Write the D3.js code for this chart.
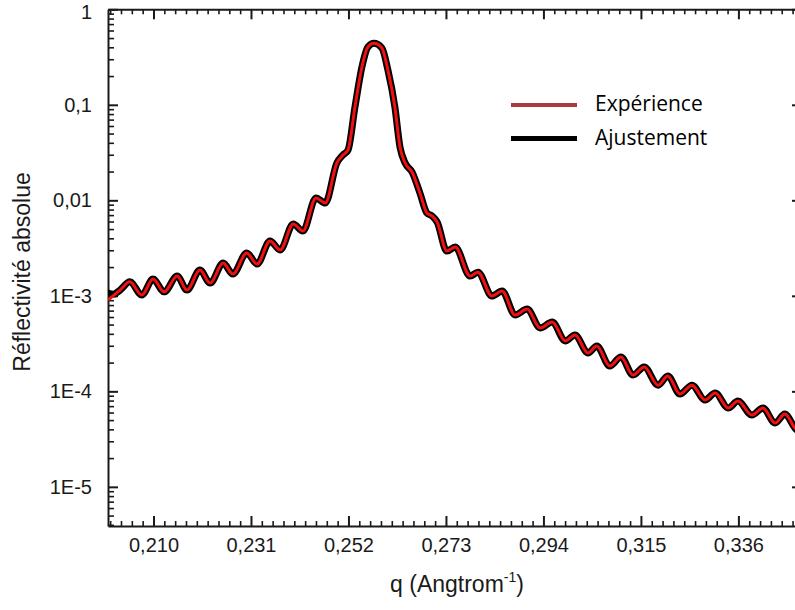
<!DOCTYPE html>
<html><head><meta charset="utf-8">
<script src="https://cdn.jsdelivr.net/npm/d3@7"></script>
<style>body{margin:0;background:#fff}svg{display:block}</style>
</head><body>
<svg id="c" width="795" height="610"></svg>
<script>
// ---- data ----
const qValues = [0.2002,0.2013,0.2028,0.2049,0.2075,0.2099,0.2123,0.2151,0.2172,0.2200,
  0.2222,0.2250,0.2271,0.2301,0.2323,0.2351,0.2373,0.2401,0.2422,0.2450,
  0.2470,0.2495,0.2508,0.2519,0.2534,0.2549,0.2562,0.2575,0.2592,0.2605,
  0.2620,0.2631,0.2642,0.2657,0.2674,0.2689,0.2700,0.2711,0.2732,0.2750,
  0.2782,0.2799,0.2829,0.2851,0.2879,0.2905,0.2933,0.2959,0.2987,0.3008,
  0.3036,0.3055,0.3083,0.3107,0.3133,0.3157,0.3187,0.3208,0.3234,0.3260,
  0.3288,0.3310,0.3338,0.3359,0.3389,0.3413,0.3439,0.3460,0.3482,0.3497];
const experience = [9.04e-4,1.00e-3,1.15e-3,1.40e-3,1.02e-3,1.50e-3,1.10e-3,1.61e-3,1.15e-3,1.86e-3,
  1.36e-3,2.20e-3,1.69e-3,2.81e-3,2.15e-3,3.75e-3,3.02e-3,5.65e-3,4.77e-3,1.06e-2,
  9.37e-3,2.46e-2,2.98e-2,3.36e-2,9.48e-2,0.249,0.403,0.440,0.394,0.231,
  9.48e-2,3.61e-2,2.46e-2,1.98e-2,1.19e-2,7.36e-3,6.85e-3,5.93e-3,2.94e-3,3.24e-3,
  1.61e-3,1.77e-3,9.95e-4,1.12e-3,6.30e-4,7.28e-4,4.60e-4,5.32e-4,3.37e-4,3.89e-4,
  2.52e-4,2.98e-4,1.84e-4,2.29e-4,1.48e-4,1.80e-4,1.16e-4,1.45e-4,9.37e-5,1.16e-4,
  8.11e-5,9.59e-5,6.68e-5,7.91e-5,5.65e-5,6.68e-5,4.66e-5,5.78e-5,4.12e-5,3.57e-5];
const ajustement = [1.07e-3,1.04e-3,1.15e-3,1.40e-3,1.02e-3,1.50e-3,1.10e-3,1.61e-3,1.15e-3,1.86e-3,
  1.36e-3,2.20e-3,1.69e-3,2.81e-3,2.15e-3,3.75e-3,3.02e-3,5.65e-3,4.77e-3,1.06e-2,
  9.37e-3,2.46e-2,2.98e-2,3.36e-2,9.48e-2,0.249,0.403,0.440,0.394,0.231,
  9.48e-2,3.61e-2,2.46e-2,1.98e-2,1.19e-2,7.36e-3,6.85e-3,5.93e-3,2.94e-3,3.24e-3,
  1.61e-3,1.77e-3,9.95e-4,1.12e-3,6.30e-4,7.28e-4,4.60e-4,5.32e-4,3.37e-4,3.89e-4,
  2.52e-4,2.98e-4,1.84e-4,2.29e-4,1.48e-4,1.80e-4,1.16e-4,1.45e-4,9.37e-5,1.16e-4,
  8.11e-5,9.59e-5,6.68e-5,7.91e-5,5.65e-5,6.68e-5,4.66e-5,5.78e-5,4.12e-5,3.57e-5];
const xTickValues = [0.210,0.231,0.252,0.273,0.294,0.315,0.336];
const yTickValues = [1,0.1,0.01,1e-3,1e-4,1e-5];
const yTickLabels = ["1","0,1","0,01","1E-3","1E-4","1E-5"];
const legendLabels = ["Expérience","Ajustement"];
const xTitle = "q (Angtrom";
const yTitle = "Réflectivité absolue";

// ---- layout ----
const L = 108, R = 802, T = 9.3, B = 526;
const svg = d3.select("#c");
const x = d3.scaleLinear().domain([0.2002, 0.3497]).range([L, R]);
const y = d3.scaleLog().domain([Math.pow(10, -5.41), 1]).range([B, T]);

const xMinor = d3.range(-4, 64).filter(k => k % 9 !== 0)
  .map(k => 0.210 + k * 0.021 / 9)
  .filter(v => v >= x.domain()[0] && v <= x.domain()[1]);
const yMinor = [];
for (let d = -6; d <= 0; d++) for (let m = 2; m <= 9; m++) {
  const v = m * Math.pow(10, d);
  if (v >= y.domain()[0] && v <= y.domain()[1]) yMinor.push(v);
}

const axisColor = "#1a1a1a";
function styleAxis(g, w) {
  g.selectAll("path.domain").attr("stroke", axisColor).attr("stroke-width", 2);
  g.selectAll(".tick line").attr("stroke", axisColor).attr("stroke-width", w);
  g.selectAll(".tick text").attr("fill", axisColor)
    .style("font-family", "'Liberation Sans', Arial, sans-serif").style("font-size", "20px");
}
const fmtX = d => d3.format(".3f")(d).replace(".", ",");

// minor ticks
svg.append("g").attr("transform", `translate(0,${B})`)
  .call(d3.axisBottom(x).tickValues(xMinor).tickSize(-5).tickSizeOuter(0).tickFormat(""))
  .call(g => { g.select(".domain").remove(); styleAxis(g, 1.6); });
svg.append("g").attr("transform", `translate(0,${T})`)
  .call(d3.axisTop(x).tickValues(xMinor).tickSize(-5).tickSizeOuter(0).tickFormat(""))
  .call(g => { g.select(".domain").remove(); styleAxis(g, 1.6); });
svg.append("g").attr("transform", `translate(${L},0)`)
  .call(d3.axisLeft(y).tickValues(yMinor).tickSize(-6).tickSizeOuter(0).tickFormat(""))
  .call(g => { g.select(".domain").remove(); styleAxis(g, 1.6); });
svg.append("g").attr("transform", `translate(${R},0)`)
  .call(d3.axisRight(y).tickValues(yMinor).tickSize(-6).tickSizeOuter(0).tickFormat(""))
  .call(g => { g.select(".domain").remove(); styleAxis(g, 1.6); });

// major axes
svg.append("g").attr("transform", `translate(0,${B})`)
  .call(d3.axisBottom(x).tickValues(xTickValues).tickSize(-10).tickSizeOuter(0).tickPadding(12).tickFormat(fmtX))
  .call(g => styleAxis(g, 2));
svg.append("g").attr("transform", `translate(0,${T})`)
  .call(d3.axisTop(x).tickValues(xTickValues).tickSize(-10).tickSizeOuter(0).tickFormat(""))
  .call(g => styleAxis(g, 2));
svg.append("g").attr("transform", `translate(${L},0)`)
  .call(d3.axisLeft(y).tickValues(yTickValues).tickSize(-10).tickSizeOuter(0).tickPadding(16)
    .tickFormat((d, i) => yTickLabels[i]))
  .call(g => {
    styleAxis(g, 2);
    g.selectAll(".tick text").filter(d => d === 1).attr("dy", "0.45em");
  });
svg.append("g").attr("transform", `translate(${R},0)`)
  .call(d3.axisRight(y).tickValues(yTickValues).tickSize(-10).tickSizeOuter(0).tickFormat(""))
  .call(g => styleAxis(g, 2));

// curves
svg.append("defs").append("clipPath").attr("id", "clip")
  .append("rect").attr("x", L).attr("y", T).attr("width", R - L).attr("height", B - T);
const line = d3.line().x(d => x(d[0])).y(d => y(d[1])).curve(d3.curveMonotoneX);
const fitData = qValues.map((q, i) => [q, ajustement[i]]);
const expData = qValues.map((q, i) => [q, experience[i]]);
const plot = svg.append("g").attr("clip-path", "url(#clip)");
plot.append("path").datum(fitData).attr("d", line)
  .attr("fill", "none").attr("stroke", "#000").attr("stroke-width", 7)
  .attr("stroke-linejoin", "round").attr("stroke-linecap", "round");
plot.append("path").datum(expData).attr("d", line)
  .attr("fill", "none").attr("stroke", "#f01010").attr("stroke-width", 3)
  .attr("stroke-linejoin", "round");

// legend
const legendColors = ["#a83c3c", "#000"];
const legendWidths = [4, 5];
const lg = svg.append("g");
legendLabels.forEach((lab, i) => {
  const yy = 105 + i * 33.5;
  lg.append("line").attr("x1", 511).attr("x2", 577).attr("y1", yy).attr("y2", yy)
    .attr("stroke", legendColors[i]).attr("stroke-width", legendWidths[i]);
  lg.append("text").attr("x", 595).attr("y", yy + 6).text(lab)
    .attr("fill", "#000").style("font-family", "'Open Sans', sans-serif").style("font-size", "21px");
});

// titles
const tx = svg.append("text").attr("x", 457).attr("y", 592).attr("text-anchor", "middle")
  .attr("fill", axisColor).style("font-family", "'Liberation Sans', Arial, sans-serif").style("font-size", "23px");
tx.append("tspan").text(xTitle);
tx.append("tspan").attr("dy", -10).style("font-size", "14px").text("-1");
tx.append("tspan").attr("dy", 10).text(")");

svg.append("text").attr("transform", "translate(30,272) rotate(-90)").attr("text-anchor", "middle")
  .attr("fill", axisColor).style("font-family", "'Liberation Sans', Arial, sans-serif").style("font-size", "23px")
  .text(yTitle);
</script>
</body></html>
